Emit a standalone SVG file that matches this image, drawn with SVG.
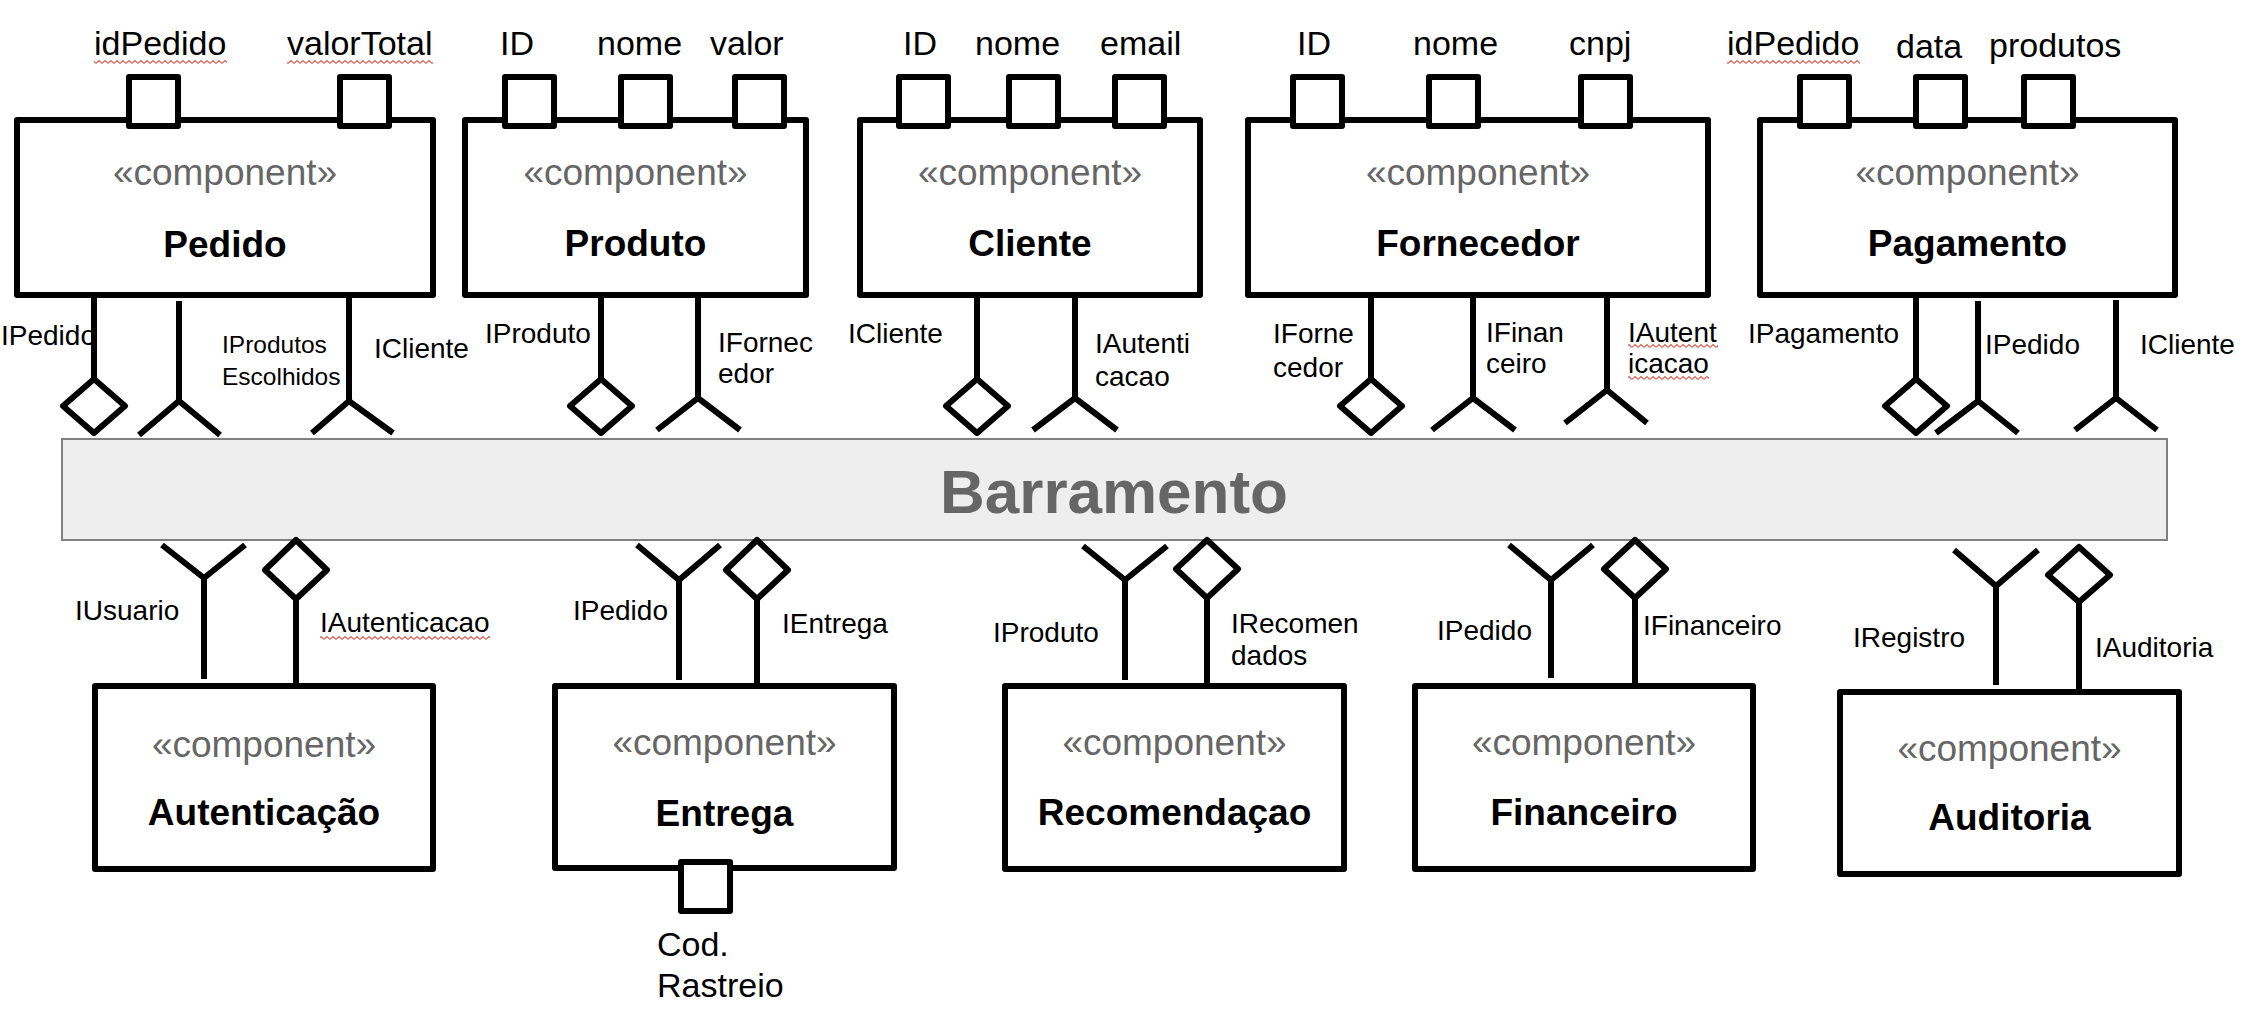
<svg xmlns="http://www.w3.org/2000/svg" width="2250" height="1012" viewBox="0 0 2250 1012">
<style>
text{font-family:"Liberation Sans",Arial,sans-serif;}
.box{fill:#fff;stroke:#000;stroke-width:6;stroke-linejoin:round;}
.port{fill:#fff;stroke:#000;stroke-width:6;stroke-linejoin:round;}
.stereo{font-size:37px;fill:#666;text-anchor:middle;}
.name{font-size:37px;font-weight:bold;fill:#000;text-anchor:middle;}
.attr{font-size:34px;fill:#000;}
.lbl{font-size:28px;fill:#000;}
.lbls{font-size:24.5px;fill:#000;}
.ln{stroke:#000;stroke-width:6;fill:none;}
.dia{stroke:#000;stroke-width:6;fill:#fff;stroke-linejoin:round;}
.sock{stroke:#000;stroke-width:6;fill:none;stroke-linejoin:miter;}
.sq{fill:url(#squig);}
</style>
<defs>
<pattern id="squig" x="0" y="0" width="6" height="4" patternUnits="userSpaceOnUse">
<path d="M0 3.4 L3 0.6 L6 3.4" stroke="#e04a3c" stroke-width="1.1" fill="none"/>
</pattern>
</defs>
<rect width="2250" height="1012" fill="#fff"/>

<g id="barramento">
<rect x="62" y="439" width="2105" height="101" fill="#eeeeee" stroke="#808080" stroke-width="2"/>
<text x="1114" y="513" font-size="62" font-weight="bold" fill="#666" text-anchor="middle">Barramento</text>
</g>

<g id="connectors">
<!-- Pedido -->
<line class="ln" x1="94" y1="295" x2="94" y2="379"/>
<polygon class="dia" points="94,379 125,406 94,433 63,406"/>
<line class="ln" x1="179" y1="301" x2="179" y2="400"/>
<polyline class="sock" points="139,435 179,401 220,435"/>
<line class="ln" x1="349" y1="295" x2="349" y2="400"/>
<polyline class="sock" points="312,433 349,401 393,433"/>
<text class="lbl" x="1" y="345" font-size="26.5">IPedido</text>
<text class="lbls" x="222" y="353">IProdutos</text>
<text class="lbls" x="222" y="385">Escolhidos</text>
<text class="lbl" x="374" y="358">ICliente</text>
<!-- Produto -->
<line class="ln" x1="601" y1="295" x2="601" y2="379"/>
<polygon class="dia" points="601,379 632,406 601,433 570,406"/>
<line class="ln" x1="698" y1="298" x2="698" y2="398"/>
<polyline class="sock" points="657,430 698,398 740,430"/>
<text class="lbl" x="485" y="343">IProduto</text>
<text class="lbl" x="718" y="352">IFornec</text>
<text class="lbl" x="718" y="383">edor</text>
<!-- Cliente -->
<line class="ln" x1="977" y1="295" x2="977" y2="379"/>
<polygon class="dia" points="977,379 1008,406 977,433 946,406"/>
<line class="ln" x1="1075" y1="298" x2="1075" y2="398"/>
<polyline class="sock" points="1033,430 1075,398 1117,430"/>
<text class="lbl" x="848" y="343">ICliente</text>
<text class="lbl" x="1095" y="353">IAutenti</text>
<text class="lbl" x="1095" y="386">cacao</text>
<!-- Fornecedor -->
<line class="ln" x1="1371" y1="295" x2="1371" y2="379"/>
<polygon class="dia" points="1371,379 1402,406 1371,433 1340,406"/>
<line class="ln" x1="1473" y1="298" x2="1473" y2="398"/>
<polyline class="sock" points="1432,430 1473,398 1515,430"/>
<line class="ln" x1="1607" y1="295" x2="1607" y2="390"/>
<polyline class="sock" points="1565,423 1607,390 1647,423"/>
<text class="lbl" x="1273" y="343">IForne</text>
<text class="lbl" x="1273" y="377">cedor</text>
<text class="lbl" x="1486" y="342">IFinan</text>
<text class="lbl" x="1486" y="373">ceiro</text>
<text class="lbl" x="1628" y="342">IAutent</text>
<text class="lbl" x="1628" y="373">icacao</text>
<rect class="sq" x="1628" y="344" width="90" height="4"/>
<rect class="sq" x="1628" y="376" width="81" height="4"/>
<!-- Pagamento -->
<line class="ln" x1="1916" y1="295" x2="1916" y2="379"/>
<polygon class="dia" points="1916,379 1947,406 1916,433 1885,406"/>
<line class="ln" x1="1978" y1="301" x2="1978" y2="400"/>
<polyline class="sock" points="1936,433 1978,401 2018,433"/>
<line class="ln" x1="2116" y1="300" x2="2116" y2="398"/>
<polyline class="sock" points="2075,430 2116,398 2157,430"/>
<text class="lbl" x="1748" y="343">IPagamento</text>
<text class="lbl" x="1985" y="354">IPedido</text>
<text class="lbl" x="2140" y="354">ICliente</text>

<!-- Autenticacao -->
<line class="ln" x1="204" y1="578" x2="204" y2="679"/>
<polyline class="sock" points="162,545 204,578 245,545"/>
<line class="ln" x1="296" y1="599" x2="296" y2="686"/>
<polygon class="dia" points="296,540 327,570 296,599 265,570"/>
<text class="lbl" x="75" y="620">IUsuario</text>
<text class="lbl" x="320" y="632">IAutenticacao</text>
<rect class="sq" x="320" y="636" width="170" height="4"/>
<!-- Entrega -->
<line class="ln" x1="679" y1="580" x2="679" y2="680"/>
<polyline class="sock" points="637,545 679,580 720,545"/>
<line class="ln" x1="757" y1="599" x2="757" y2="686"/>
<polygon class="dia" points="757,540 788,570 757,599 726,570"/>
<text class="lbl" x="573" y="620">IPedido</text>
<text class="lbl" x="782" y="633">IEntrega</text>
<!-- Recomendacao -->
<line class="ln" x1="1125" y1="580" x2="1125" y2="680"/>
<polyline class="sock" points="1083,546 1125,580 1167,546"/>
<line class="ln" x1="1207" y1="598" x2="1207" y2="686"/>
<polygon class="dia" points="1207,540 1238,569 1207,598 1176,569"/>
<text class="lbl" x="993" y="642">IProduto</text>
<text class="lbl" x="1231" y="633">IRecomen</text>
<text class="lbl" x="1231" y="665">dados</text>
<!-- Financeiro -->
<line class="ln" x1="1551" y1="580" x2="1551" y2="678"/>
<polyline class="sock" points="1509,545 1551,580 1593,545"/>
<line class="ln" x1="1635" y1="598" x2="1635" y2="686"/>
<polygon class="dia" points="1635,540 1666,569 1635,598 1604,569"/>
<text class="lbl" x="1437" y="640">IPedido</text>
<text class="lbl" x="1643" y="635">IFinanceiro</text>
<!-- Auditoria -->
<line class="ln" x1="1996" y1="586" x2="1996" y2="685"/>
<polyline class="sock" points="1954,550 1996,586 2038,550"/>
<line class="ln" x1="2079" y1="602" x2="2079" y2="692"/>
<polygon class="dia" points="2079,547 2110,575 2079,602 2048,575"/>
<text class="lbl" x="1853" y="647">IRegistro</text>
<text class="lbl" x="2095" y="657">IAuditoria</text>
</g>

<g id="pedido">
<rect class="box" x="17" y="120" width="416" height="175"/>
<rect class="port" x="129" y="77" width="49" height="49"/>
<rect class="port" x="340" y="77" width="49" height="49"/>
<text class="attr" x="94" y="55">idPedido</text>
<text class="attr" x="287" y="55">valorTotal</text>
<rect class="sq" x="94" y="60" width="133" height="4"/>
<rect class="sq" x="287" y="60" width="146" height="4"/>
<text class="stereo" x="225" y="185">«component»</text>
<text class="name" x="225" y="257">Pedido</text>
</g>

<g id="produto">
<rect class="box" x="465" y="120" width="341" height="175"/>
<rect class="port" x="505" y="77" width="49" height="49"/>
<rect class="port" x="621" y="77" width="49" height="49"/>
<rect class="port" x="735" y="77" width="49" height="49"/>
<text class="attr" x="500" y="55">ID</text>
<text class="attr" x="597" y="55">nome</text>
<text class="attr" x="710" y="55">valor</text>
<text class="stereo" x="635.5" y="185">«component»</text>
<text class="name" x="635.5" y="256">Produto</text>
</g>

<g id="cliente">
<rect class="box" x="860" y="120" width="340" height="175"/>
<rect class="port" x="899" y="77" width="49" height="49"/>
<rect class="port" x="1009" y="77" width="49" height="49"/>
<rect class="port" x="1115" y="77" width="49" height="49"/>
<text class="attr" x="903" y="55">ID</text>
<text class="attr" x="975" y="55">nome</text>
<text class="attr" x="1100" y="55">email</text>
<text class="stereo" x="1030" y="185">«component»</text>
<text class="name" x="1030" y="256">Cliente</text>
</g>

<g id="fornecedor">
<rect class="box" x="1248" y="120" width="460" height="175"/>
<rect class="port" x="1293" y="77" width="49" height="49"/>
<rect class="port" x="1429" y="77" width="49" height="49"/>
<rect class="port" x="1581" y="77" width="49" height="49"/>
<text class="attr" x="1297" y="55">ID</text>
<text class="attr" x="1413" y="55">nome</text>
<text class="attr" x="1569" y="55">cnpj</text>
<text class="stereo" x="1478" y="185">«component»</text>
<text class="name" x="1478" y="256">Fornecedor</text>
</g>

<g id="pagamento">
<rect class="box" x="1760" y="120" width="415" height="175"/>
<rect class="port" x="1800" y="77" width="49" height="49"/>
<rect class="port" x="1916" y="77" width="49" height="49"/>
<rect class="port" x="2024" y="77" width="49" height="49"/>
<text class="attr" x="1727" y="55">idPedido</text>
<text class="attr" x="1896" y="58">data</text>
<text class="attr" x="1989" y="57">produtos</text>
<rect class="sq" x="1727" y="60" width="133" height="4"/>
<text class="stereo" x="1967.5" y="185">«component»</text>
<text class="name" x="1967.5" y="256">Pagamento</text>
</g>

<g id="autenticacao">
<rect class="box" x="95" y="686" width="338" height="183"/>
<text class="stereo" x="264" y="757">«component»</text>
<text class="name" x="264" y="825">Autenticação</text>
</g>

<g id="entrega">
<rect class="box" x="555" y="686" width="339" height="182"/>
<rect class="port" x="681" y="862" width="49" height="49"/>
<text class="stereo" x="724.5" y="755">«component»</text>
<text class="name" x="724.5" y="826">Entrega</text>
<text class="attr" x="657" y="956">Cod.</text>
<text class="attr" x="657" y="997">Rastreio</text>
</g>

<g id="recomendacao">
<rect class="box" x="1005" y="686" width="339" height="183"/>
<text class="stereo" x="1174.5" y="755">«component»</text>
<text class="name" x="1174.5" y="825">Recomendaçao</text>
</g>

<g id="financeiro">
<rect class="box" x="1415" y="686" width="338" height="183"/>
<text class="stereo" x="1584" y="755">«component»</text>
<text class="name" x="1584" y="825">Financeiro</text>
</g>

<g id="auditoria">
<rect class="box" x="1840" y="692" width="339" height="182"/>
<text class="stereo" x="2009.5" y="761">«component»</text>
<text class="name" x="2009.5" y="830">Auditoria</text>
</g>
</svg>
